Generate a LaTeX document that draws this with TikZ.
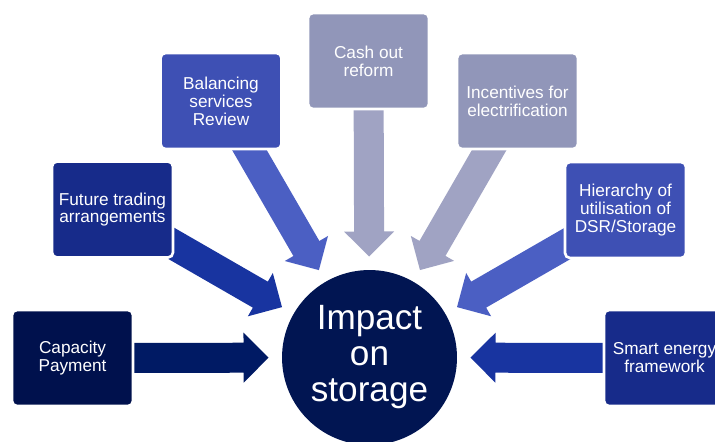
\documentclass[tikz,border=0pt]{standalone}
\usepackage{fontspec}
\setmainfont{Liberation Sans}
\usetikzlibrary{calc,backgrounds}

\definecolor{navy}{RGB}{0,17,77}
\definecolor{navyarrow}{RGB}{0,26,100}
\definecolor{hubblue}{RGB}{1,21,82}
\definecolor{royal}{RGB}{23,43,138}
\definecolor{royalarrow}{RGB}{24,52,160}
\definecolor{midblue}{RGB}{62,80,180}
\definecolor{midarrow}{RGB}{75,95,195}
\definecolor{greyblue}{RGB}{145,150,185}
\definecolor{greyarrow}{RGB}{160,163,195}

% block arrow: #1 start node, #2 tip coordinate, #3 colour
\newcommand{\fatarrow}[3]{%
  \coordinate (#1-h) at ($(#2)!0.5cm!(#1)$);
  \fill[#3] ($(#1)!0.3cm!90:(#2)$) -- ($(#1-h)!0.3cm!90:(#2)$)
    -- ($(#1-h)!0.5cm!90:(#2)$) -- (#2) -- ($(#1-h)!0.5cm!-90:(#2)$)
    -- ($(#1-h)!0.3cm!-90:(#2)$) -- ($(#1)!0.3cm!-90:(#2)$) -- cycle;
}

\begin{document}
\begin{tikzpicture}[x=0.02cm, y=-0.02cm,
  topic/.style={rectangle, rounded corners=0.1cm, draw=white, line width=1.5pt,
    minimum width=2.42cm, minimum height=1.92cm, align=center, text=white,
    font=\fontsize{9.8}{10.2}\selectfont},
  hubnode/.style={circle, fill=hubblue, minimum size=3.5cm, inner sep=0pt,
    align=center, text=white, font=\fontsize{20}{20.5}\selectfont}
]
  \useasboundingbox (0,0) rectangle (715,441);

  \node[topic, fill=navy] (cap) at (72.5,358) {Capacity\\Payment};
  \node[topic, fill=royal] (fut) at (112.5,209.5) {Future trading\\arrangements};
  \node[topic, fill=midblue] (bal) at (221,101) {Balancing\\services\\Review};
  \node[topic, fill=greyblue] (cash) at (368.5,61) {Cash out\\reform};
  \node[topic, fill=greyblue] (inc) at (517.5,101) {Incentives for\\electrification};
  \node[topic, fill=midblue] (hier) at (625.5,210) {Hierarchy of\\utilisation of\\DSR/Storage};
  \node[topic, fill=royal] (smart) at (664.5,358) {Smart energy\\framework};

  \node[hubnode] (hub) at (369.5,357.5) {Impact\\on\\storage};

  \foreach \n in {cap, fut, bal, cash, inc, hier, smart}
    \coordinate (\n-tip) at ($(hub)!2.02cm!(\n)$);

  \begin{scope}[on background layer]
    \fatarrow{cap}{cap-tip}{navyarrow}
    \fatarrow{fut}{fut-tip}{royalarrow}
    \fatarrow{bal}{bal-tip}{midarrow}
    \fatarrow{cash}{cash-tip}{greyarrow}
    \fatarrow{inc}{inc-tip}{greyarrow}
    \fatarrow{hier}{hier-tip}{midarrow}
    \fatarrow{smart}{smart-tip}{royalarrow}
  \end{scope}
\end{tikzpicture}
\end{document}
